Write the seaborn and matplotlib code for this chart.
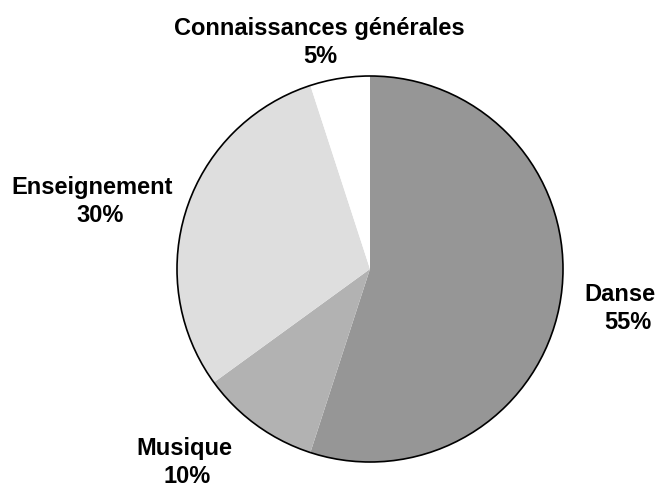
import matplotlib
matplotlib.use("Agg")
import matplotlib.pyplot as plt
import seaborn as sns
from matplotlib.patches import Circle

categories = ["Danse", "Musique", "Enseignement", "Connaissances générales"]
values = [55, 10, 30, 5]
colors = ["#969696", "#b2b2b2", "#dedede", "#ffffff"]
# (x of name, x of percent, baseline y of name) in pixels from the top
label_pos = [(620, 628, 301), (184, 187, 455), (92, 100, 194), (319, 320, 35)]

sns.set_theme(style="white")
plt.rcParams['font.family'] = ['Liberation Sans', 'DejaVu Sans']

W, H = 657, 488
fig = plt.figure(figsize=(W / 100, H / 100), dpi=100)
ax = fig.add_axes([0, 0, 1, 1])

cx, cy, r = 370, H - 269, 193
ax.pie(values, colors=colors, startangle=90, counterclock=False,
       center=(cx, cy), radius=r, wedgeprops=dict(linewidth=0),
       frame=True)
ax.add_patch(Circle((cx, cy), r, fill=False, edgecolor='black', linewidth=1.2))
ax.set_xlim(0, W)
ax.set_ylim(0, H)
ax.set_aspect('equal')
ax.axis('off')

line_gap = 28
for cat, v, (nx, px, by) in zip(categories, values, label_pos):
    ax.text(nx, H - by, cat, ha='center', va='baseline',
            fontsize=17, fontweight='bold', color='black')
    ax.text(px, H - by - line_gap, f"{v}%", ha='center', va='baseline',
            fontsize=17, fontweight='bold', color='black')

fig.savefig("out.png", dpi=100)
